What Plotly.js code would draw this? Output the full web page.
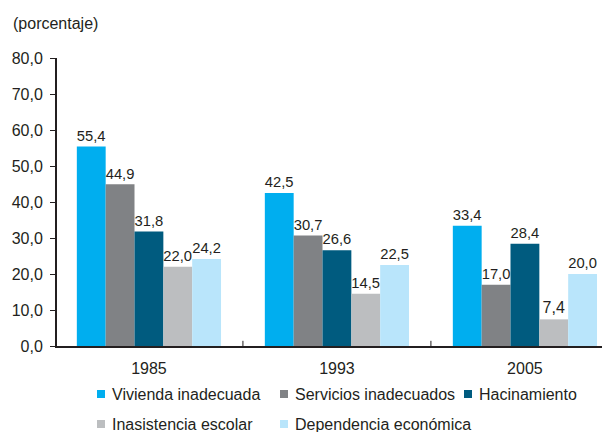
<!DOCTYPE html>
<html>
<head>
<meta charset="utf-8">
<script src="https://cdn.plot.ly/plotly-3.0.1.min.js"></script>
<style>html,body{margin:0;padding:0;background:#fff;}#chart{width:606px;height:432px;}</style>
</head>
<body>
<div id="chart"></div>
<script>
const years = ["1985", "1993", "2005"];
const seriesNames = ["Vivienda inadecuada", "Servicios inadecuados", "Hacinamiento", "Inasistencia escolar", "Dependencia económica"];
const vivienda = [55.4, 42.5, 33.4];
const servicios = [44.9, 30.7, 17.0];
const hacinamiento = [31.8, 26.6, 28.4];
const inasistencia = [22.0, 14.5, 7.4];
const dependencia = [24.2, 22.5, 20.0];
const yTicks = [0, 10, 20, 30, 40, 50, 60, 70, 80];

const values = [vivienda, servicios, hacinamiento, inasistencia, dependencia];
const colors = ["#00aeef", "#808285", "#005b7f", "#bcbec0", "#b9e5fb"];
const font = "Liberation Sans, Arial, Helvetica, sans-serif";
const txt = "#231f20";
const fs = 16;

const traces = values.map((v, i) => ({
  type: "bar",
  name: seriesNames[i],
  x: years,
  y: v,
  marker: {color: colors[i], line: {width: 0}},
  text: v.map(d => d.toFixed(1).replace(".", ",")),
  textposition: "outside",
  cliponaxis: false,
  textfont: {family: font, size: fs, color: txt},
  hoverinfo: "none",
  showlegend: false
}));

// plot area geometry (pixels) for placing legend keys in paper coords
const L = 57, R = 4, T = 58, B = 86, W = 606, H = 432;
const pw = W - L - R, ph = H - T - B;
const px = x => (x - L) / pw;
const py = y => (H - B - y) / ph;

// legend layout: [column x of key center, row y]
const legendPos = [[101, 394], [284, 394], [468, 394], [101, 424], [284, 424]];

const legendShapes = seriesNames.map((n, i) => ({
  type: "rect", xref: "paper", yref: "paper",
  x0: px(legendPos[i][0] - 4), x1: px(legendPos[i][0] + 4),
  y0: py(legendPos[i][1] + 4), y1: py(legendPos[i][1] - 4),
  fillcolor: colors[i], line: {width: 0}
}));
const legendText = seriesNames.map((n, i) => ({
  text: n, xref: "paper", yref: "paper",
  x: px(legendPos[i][0] + 9), y: py(legendPos[i][1]),
  xanchor: "left", yanchor: "middle", showarrow: false,
  font: {family: font, size: fs, color: txt}
}));

const layout = {
  width: W, height: H,
  margin: {l: L, r: R, t: T, b: B, autoexpand: false},
  paper_bgcolor: "#fff", plot_bgcolor: "#fff",
  font: {family: font, size: fs, color: txt},
  barmode: "group",
  bargap: 0.233, bargroupgap: 0,
  showlegend: false,
  xaxis: {
    type: "category",
    range: [-0.489, 2.41],
    showline: true, linecolor: txt, linewidth: 2,
    showgrid: false, zeroline: false,
    ticks: "", ticklabelstandoff: 7,
    tickfont: {family: font, size: fs, color: txt},
    fixedrange: true
  },
  yaxis: {
    range: [0, 80],
    tickvals: yTicks,
    ticktext: yTicks.map(t => t.toFixed(1).replace(".", ",")),
    showline: true, linecolor: txt, linewidth: 2,
    ticks: "outside", ticklen: 5, tickcolor: txt, tickwidth: 1,
    ticklabelstandoff: 4,
    showgrid: false, zeroline: false,
    tickfont: {family: font, size: fs, color: txt},
    fixedrange: true
  },
  shapes: [0.5, 1.5].map(b => ({
    type: "line", xref: "x", yref: "paper", x0: b, x1: b, y0: 0, y1: 0.018,
    line: {color: txt, width: 1}
  })).concat(legendShapes),
  annotations: [{
    text: "(porcentaje)", xref: "paper", yref: "paper",
    x: px(11), y: py(24), xanchor: "left", yanchor: "middle",
    showarrow: false, font: {family: font, size: fs, color: txt}
  }].concat(legendText)
};

Plotly.newPlot("chart", traces, layout, {displayModeBar: false, staticPlot: true});
</script>
</body>
</html>
